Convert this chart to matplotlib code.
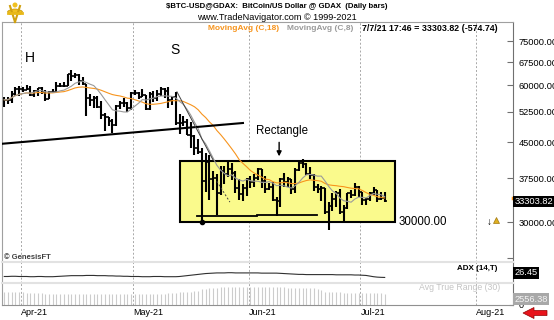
import numpy as np
import pandas as pd
import matplotlib
matplotlib.use('Agg')
import matplotlib.pyplot as plt
import matplotlib.dates as mdates
import matplotlib.transforms as mtransforms
from matplotlib.patches import Rectangle, Polygon, Wedge
from matplotlib.ticker import NullLocator

plt.rcParams['font.family'] = ['Liberation Sans', 'DejaVu Sans']

W, H = 554, 320

# daily bars, prices in thousands of USD
dates = pd.date_range('2021-03-27', '2021-07-07', freq='D')
opens_k = [55.0, 55.8, 55.8, 57.6, 58.8,
           58.8, 58.7, 59.0, 57.1, 58.2, 59.1, 57.9, 56.1, 58.1, 58.1, 59.8, 59.9, 59.8, 63.6, 62.9,
           63.2, 61.3, 60.3, 56.3, 55.7, 56.4, 53.8, 51.7, 51.2, 50.1, 49.1, 54.0, 55.0, 54.8, 53.6,
           57.7, 57.8, 56.6, 57.2, 53.2, 57.5, 56.4, 57.4, 58.9, 58.3, 55.8, 56.7, 49.5, 49.7, 49.9,
           46.7, 46.5, 43.6, 42.9, 37.0, 40.7, 37.3, 37.5, 34.7, 38.8, 38.3, 39.2, 38.5, 35.7, 34.6, 35.7,
           37.3, 36.7, 37.6, 39.2, 36.9, 35.5, 35.8, 33.6, 33.4, 37.4, 36.7, 37.3, 35.5, 39.1, 40.5,
           40.2, 38.3, 38.1, 35.8, 35.5, 35.6, 31.6, 32.5, 33.7, 34.7, 31.6, 32.2, 34.7, 34.5, 35.9,
           35.0, 33.5, 33.8, 34.7, 35.3, 33.7, 33.87856]
highs_k = [56.6, 56.6, 58.4, 59.4, 59.8,
           59.5, 60.1, 59.8, 58.5, 59.3, 59.4, 58.6, 58.4, 58.9, 61.2, 60.7, 61.2, 63.7, 64.9, 63.8,
           63.5, 62.5, 60.6, 57.6, 57.0, 56.8, 55.5, 52.1, 51.2, 50.6, 54.3, 55.4, 56.4, 55.2, 58.0,
           58.5, 57.9, 58.9, 57.2, 57.9, 58.4, 58.6, 59.5, 59.2, 59.5, 56.9, 58.0, 52.0, 51.5, 50.6,
           49.8, 46.6, 45.8, 43.6, 42.5, 42.2, 38.8, 38.2, 39.9, 39.8, 40.8, 40.4, 38.8, 37.3, 36.4, 37.5,
           37.9, 38.2, 39.5, 39.3, 37.9, 36.5, 36.8, 34.0, 37.5, 38.4, 37.7, 37.4, 39.4, 41.0, 41.3,
           40.5, 39.6, 38.2, 36.4, 36.1, 35.7, 33.3, 34.8, 35.2, 35.5, 32.7, 34.7, 35.3, 36.6, 36.0,
           35.0, 33.9, 34.9, 35.9, 35.3, 35.0, 35.0]
lows_k = [53.9, 54.7, 54.9, 57.0, 56.9,
          57.9, 58.5, 56.9, 56.5, 56.8, 57.6, 55.5, 55.9, 57.7, 57.9, 59.4, 59.4, 59.8, 61.3, 62.2,
          60.0, 60.1, 51.5, 54.2, 53.5, 53.6, 50.6, 47.6, 48.9, 47.1, 48.8, 53.3, 53.9, 52.4, 53.1,
          57.1, 56.1, 56.5, 53.1, 52.9, 55.3, 55.4, 56.9, 56.2, 53.4, 54.4, 49.2, 46.8, 48.8, 46.6,
          43.8, 42.1, 42.3, 30.0, 35.0, 33.5, 35.3, 31.1, 34.4, 36.4, 37.8, 37.2, 34.8, 33.6, 33.4, 34.2,
          35.7, 35.9, 37.2, 35.6, 34.8, 35.3, 33.4, 31.0, 32.4, 35.8, 35.9, 34.6, 34.8, 38.8, 39.5,
          38.1, 37.4, 35.2, 34.8, 33.4, 31.3, 28.8, 31.7, 32.4, 31.3, 30.2, 32.0, 33.9, 34.2, 34.0,
          32.7, 32.7, 33.4, 34.4, 33.2, 33.6, 33.25]
closes_k = [55.8, 55.8, 57.6, 58.8, 58.8,
            58.7, 59.0, 57.1, 58.2, 59.1, 57.9, 56.1, 58.1, 58.1, 59.8, 59.9, 59.8, 63.6, 62.9, 63.2,
            61.3, 60.3, 56.3, 55.7, 56.4, 53.8, 51.7, 51.2, 50.1, 49.1, 54.0, 55.0, 54.8, 53.6, 57.7,
            57.8, 56.6, 57.2, 53.2, 57.5, 56.4, 57.4, 58.9, 58.3, 55.8, 56.7, 49.5, 49.7, 49.9, 46.7,
            46.5, 43.6, 42.9, 37.0, 40.7, 37.3, 37.5, 34.7, 38.8, 38.3, 39.2, 38.5, 35.7, 34.6, 35.7, 37.3,
            36.7, 37.6, 39.2, 36.9, 35.5, 35.8, 33.6, 33.4, 37.4, 36.7, 37.3, 35.5, 39.1, 40.5, 40.2,
            38.3, 38.1, 35.8, 35.5, 35.6, 31.6, 32.5, 33.7, 34.7, 31.6, 32.2, 34.7, 34.5, 35.9, 35.0,
            33.5, 33.8, 34.7, 35.3, 33.7, 33.87856, 33.30382]

adx = [31, 31, 32, 32, 31, 31, 31, 30, 30, 31, 31, 30, 30, 30,
       31, 32, 33, 34, 35, 35, 35, 35, 36, 36, 36, 35, 35, 35, 34, 34, 33, 33, 32, 32, 31,
       31, 31, 30, 30, 30, 31, 31, 31, 30, 30, 30, 30,
       31, 33, 35, 37, 39, 41, 43, 45,
       46, 47, 48, 48, 48, 49, 49, 48, 48, 48, 48, 48, 48, 48, 47, 47, 47, 47, 47,
       46, 45, 44, 43, 42, 41, 41, 40,
       40, 40, 40, 40, 40, 40, 40, 39, 39, 39, 39, 39, 38, 38, 37, 36,
       33, 30, 28, 27, 26.45]
atr = [3000, 2980, 2950, 2900, 2850, 2800, 2750, 2700, 2650, 2600, 2560, 2520, 2480, 2450,
       2430, 2420, 2410, 2420, 2430, 2420, 2400, 2390, 2450, 2460, 2450, 2440, 2460, 2480, 2470,
       2480, 2500, 2490, 2480, 2470, 2500,
       2500, 2480, 2470, 2500, 2520, 2530, 2540, 2550, 2540, 2580, 2570, 2700,
       2800, 2850, 2900, 3000, 3100, 3150, 3500, 3650,
       3800, 3850, 3950, 4000, 4020, 4030, 4040, 4050, 4060, 4050, 4060, 4040, 4030, 4020, 4000,
       3990, 3980, 3990, 3990,
       4000, 3980, 3950, 3940, 3930, 3920, 3900, 3880,
       3850, 3800, 3600, 3300, 3000, 2900, 2850, 2800, 2800, 2780, 2750, 2720, 2700, 2680, 2650, 2620,
       2600, 2590, 2580, 2570, 2556.38]

price_ticks = [30000, 37500, 45000, 52500, 60000, 67500, 75000]
month_ticks = pd.to_datetime(['2021-04-01', '2021-05-01', '2021-06-01', '2021-07-01', '2021-08-01'])
month_labels = ['Apr-21', 'May-21', 'Jun-21', 'Jul-21', 'Aug-21']

opens = np.array(opens_k) * 1000
highs = np.array(highs_k) * 1000
lows = np.array(lows_k) * 1000
closes = np.array(closes_k) * 1000
x = mdates.date2num(dates) + 0.5
ma18 = pd.Series(closes).rolling(18, min_periods=1).mean()
ma8 = pd.Series(closes).rolling(8, min_periods=1).mean()

apr1 = mdates.date2num(pd.Timestamp('2021-04-01'))


def at(d):
    return apr1 + d


def fx(px):
    return px / W


def fy(py):
    return 1 - py / H


ORANGE = '#f7941d'
GRID = '#a8a8a8'

fig = plt.figure(figsize=(W / 100, H / 100), dpi=100)
ax = fig.add_axes([fx(2), fy(262), 511 / W, 240 / H])
ax_adx = fig.add_axes([fx(2), fy(283), 511 / W, 21 / H], sharex=ax)
ax_atr = fig.add_axes([fx(2), fy(304.5), 511 / W, 21.5 / H], sharex=ax)

for a in (ax, ax_adx, ax_atr):
    for m in month_ticks:
        a.axvline(m, color=GRID, ls=(0, (2, 2)), lw=0.7, zorder=0)
    for s in ('left', 'top'):
        a.spines[s].set_color('#a0a0a0')
    a.spines['right'].set_color('#707070')
    a.spines['bottom'].set_visible(False)
    a.tick_params(axis='x', length=0, labelbottom=False)

# price panel
ax.set_yscale('log')
ax.set_xlim(at(-5.1), at(131.9))
ax.set_ylim(24500, 82800)

ax.add_patch(Rectangle((at(42.6), 30000), 57.7, 40900 - 30000, fc='#fafa8c', ec='black', lw=1.5, zorder=1))
ax.vlines(x, lows, highs, color='black', lw=1.5, zorder=2)
ax.hlines(opens, x - 0.5, x, color='black', lw=1.2, zorder=2)
ax.hlines(closes, x, x + 0.5, color='black', lw=1.2, zorder=2)
ax.plot(x, ma18, color=ORANGE, lw=0.8, zorder=3)
ax.plot(x, ma8, color='#9a9a9a', lw=0.8, zorder=3)

# drawn lines
ax.plot([at(-5.6), at(59.5)], [44600, 49600], color='black', lw=1.5, zorder=4)
ax.plot([at(41.8), at(51.5)], [58100, 41100], color='#404040', lw=0.7, zorder=4)
ax.plot([at(52.5), at(56.0)], [36900, 33200], color='#404040', lw=0.7, ls=(0, (2, 2)), zorder=4)
ax.plot([at(47.2), at(63.3)], [30900, 30900], color='black', lw=1.3, zorder=4)
ax.plot([at(63.3), at(79.4)], [31100, 31100], color='black', lw=1.3, zorder=4)
i_low = int(np.argmin(lows[:70]))
ax.plot(x[i_low], lows[i_low], 'o', color='black', ms=3, zorder=5)

ax.text(at(2.4), 68900, 'H', fontsize=10, ha='center', va='center')
ax.text(at(41.3), 71800, 'S', fontsize=10, ha='center', va='center')
ax.text(at(70.1), 47600, 'Rectangle', fontsize=8.3, ha='center', va='center')
ax.annotate('', xy=(at(69.2), 41300), xytext=(at(69.2), 45600),
            arrowprops=dict(arrowstyle='-|>', color='black', lw=1.0, mutation_scale=7))
ax.text(at(100.3) + 1.0, 30000, '30000.00', fontsize=8.3, ha='left', va='center')
ax.text(at(125.5), 30000, '↓', fontsize=7, ha='center', va='center')
ax.plot(at(127.4), 30300, marker='^', ms=5, color='#e0b020', mec='#a07810', mew=0.5)
ax.text(0.004, 0.02, '© GenesisFT', transform=ax.transAxes, fontsize=5.5, color='#404040',
        weight='bold', ha='left', va='center')

ax.yaxis.tick_right()
ax.set_yticks(price_ticks + [25000])
ax.set_yticklabels([f'{p:.2f}' for p in price_ticks] + [''])
ax.yaxis.set_minor_locator(NullLocator())
ax.tick_params(axis='y', direction='in', length=4, width=0.8, color='#707070', labelsize=6.7, pad=4)

blend = mtransforms.blended_transform_factory(ax.transAxes, ax.transData)
ax.plot([1.0, 1.1], [ma18.iloc[-1]] * 2, color=ORANGE, lw=2.5, transform=blend, clip_on=False, zorder=6)
ax.text(1.003, closes[-1], f'{closes[-1]:.2f}', transform=blend, fontsize=6.7, color='white',
        ha='left', va='center', zorder=7,
        bbox=dict(boxstyle='square,pad=0.15', fc='black', ec='none'))

# ADX panel
ax_adx.plot(x, adx, color='#303030', lw=0.8)
ax_adx.set_ylim(0, 100)
ax_adx.set_yticks([])
ax_adx.spines['top'].set_color('#e2e2e2')
ax_adx.spines['top'].set_linewidth(1.5)
ax_adx.text(0.969, 0.71, 'ADX (14,T)', transform=ax_adx.transAxes, fontsize=5.8, weight='bold',
            ha='right', va='center')
blend_adx = mtransforms.blended_transform_factory(ax_adx.transAxes, ax_adx.transData)
ax_adx.text(1.003, adx[-1], f'{adx[-1]:.2f}', transform=blend_adx, fontsize=6.7, color='white',
            ha='left', va='bottom', bbox=dict(boxstyle='square,pad=0.15', fc='black', ec='none'))

# ATR panel
ax_atr.vlines(x, 0, atr, color='#cccccc', lw=0.8)
ax_atr.set_ylim(0, 5000)
ax_atr.yaxis.tick_right()
ax_atr.set_yticks([0])
ax_atr.set_yticklabels(['0'])
ax_atr.tick_params(axis='y', direction='in', length=3, color='#707070', labelsize=6.5, pad=4)
ax_atr.spines['top'].set_color('#e2e2e2')
ax_atr.spines['top'].set_linewidth(1.5)
ax_atr.spines['bottom'].set_visible(True)
ax_atr.spines['bottom'].set_color('#909090')
ax_atr.text(0.975, 0.81, 'Avg True Range (30)', transform=ax_atr.transAxes, fontsize=6.3,
            color='#c4c4c4', ha='right', va='center')
ax_atr.text(1.003, 0.24, f'{atr[-1]:.2f}', transform=ax_atr.transAxes, fontsize=6.7, color='#f4f4f4',
            ha='left', va='center', zorder=7, bbox=dict(boxstyle='square,pad=0.15', fc='#a8a8a8', ec='none'))
ax_atr.set_xticks(month_ticks)
ax_atr.set_xticklabels(month_labels)
ax_atr.tick_params(axis='x', length=0, labelbottom=True, labelsize=6.5, pad=2.5)
for lbl in ax_atr.get_xticklabels():
    lbl.set_ha('left')

# header
fig.text(fx(276.5), fy(7), r'\$BTC-USD@GDAX:  BitCoin/US Dollar @ GDAX  (Daily bars)', fontsize=5.6,
         weight='bold', ha='center', va='center')
fig.text(fx(276.5), fy(18), 'www.TradeNavigator.com © 1999-2021', fontsize=6.6, ha='center', va='center')
fig.text(fx(208), fy(28.5), 'MovingAvg (C,18)', fontsize=6.0, weight='bold', color=ORANGE, va='center')
fig.text(fx(287), fy(28.5), 'MovingAvg (C,8)', fontsize=6.0, weight='bold', color='#9a9a9a', va='center')
fig.text(fx(362), fy(28.5), f'7/7/21 17:46 = {closes[-1]:.2f} ({closes[-1] - closes[-2]:.2f})',
         fontsize=6.4, weight='bold', va='center')

# logo
logo = fig.add_axes([fx(3), fy(26), 24 / W, 24 / H])
logo.set_xlim(0, 24)
logo.set_ylim(0, 24)
logo.axis('off')
logo.add_patch(Wedge((12, 4), 13, 55, 125, width=4, fc='#f0c020', ec='#c09000', lw=0.5))
logo.plot([12, 7], [4, 20], color='#d0a010', lw=1.5)
logo.plot([12, 17], [4, 20], color='#d0a010', lw=1.5)
logo.plot([5, 19], [13, 13], color='#e8b818', lw=2)
logo.add_patch(Wedge((12, 21), 2.5, 0, 360, fc='#f0c020', ec='none'))

# red arrow bottom right
pts = [(547, 310.5), (534, 310.5), (534, 307.5), (523, 313), (534, 318.5), (534, 315.5), (547, 315.5)]
fig.patches.append(Polygon([(fx(px), fy(py)) for px, py in pts], closed=True, fc='#e8141c', ec='#900000',
                           lw=0.5, transform=fig.transFigure, figure=fig))

fig.savefig('out.png', dpi=100)
